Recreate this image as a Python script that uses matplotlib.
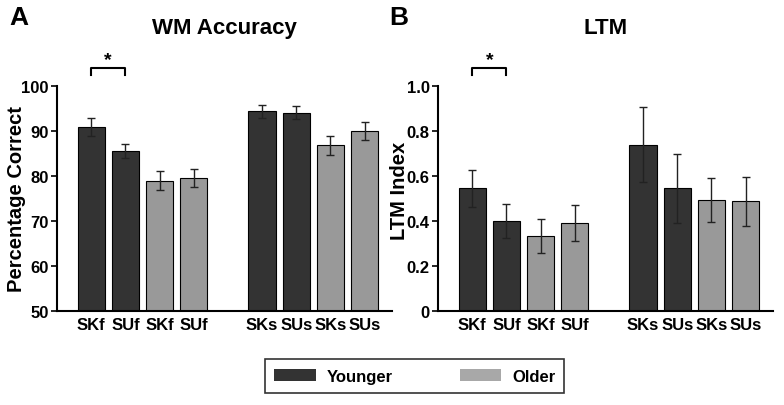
import numpy as np
import matplotlib.pyplot as plt
from matplotlib.patches import Patch

plt.rcParams['font.family'] = ['Liberation Sans', 'DejaVu Sans']
plt.rcParams['font.weight'] = 'bold'

labels = ['SKf', 'SUf', 'SKf', 'SUf', 'SKs', 'SUs', 'SKs', 'SUs']
groups = ['Younger', 'Younger', 'Older', 'Older', 'Younger', 'Younger', 'Older', 'Older']
xpos = [0, 1, 2, 3, 5, 6, 7, 8]

wm_mean = [91.0, 85.6, 79.0, 79.5, 94.4, 94.1, 86.8, 90.0]
wm_err = [2.0, 1.6, 2.2, 2.0, 1.4, 1.4, 2.2, 2.0]

ltm_mean = [0.545, 0.40, 0.335, 0.39, 0.74, 0.545, 0.492, 0.487]
ltm_err = [0.083, 0.077, 0.076, 0.08, 0.167, 0.155, 0.098, 0.107]

colors = {'Younger': '#333333', 'Older': '#999999'}
bar_colors = [colors[g] for g in groups]

fig = plt.figure(figsize=(7.84, 4.06), dpi=100)
axA = fig.add_axes([0.0727, 0.2315, 0.4273, 0.5542])
axB = fig.add_axes([0.5587, 0.2315, 0.4273, 0.5542])


def draw_panel(ax, means, errs, ylim, yticks, yticklabels, ylabel, label_xy,
               title, bracket_y, tip):
    ax.bar(xpos, np.array(means) - ylim[0], bottom=ylim[0], width=0.8,
           color=bar_colors, edgecolor='black', linewidth=0.8)
    ax.errorbar(xpos, means, yerr=errs, fmt='none', ecolor='#222222',
                elinewidth=1.0, capsize=3, capthick=1.0)
    ax.set_xlim(-1.0, 8.8)
    ax.set_ylim(*ylim)
    ax.set_yticks(yticks)
    ax.set_yticklabels(yticklabels, fontsize=12, fontweight='bold')
    ax.set_xticks(xpos)
    ax.set_xticklabels(labels, fontsize=12, fontweight='bold')
    ax.tick_params(axis='x', length=0, pad=4)
    ax.tick_params(axis='y', length=4, width=1.2, direction='out', pad=2)
    for s in ['top', 'right']:
        ax.spines[s].set_visible(False)
    for s in ['left', 'bottom']:
        ax.spines[s].set_linewidth(1.5)
    ax.set_ylabel(ylabel, fontsize=14.5, fontweight='bold')
    ax.yaxis.set_label_coords(*label_xy)
    ax.set_title(title, fontsize=16, fontweight='bold', pad=38)
    # significance bracket
    ax.plot([0, 0, 1, 1], [bracket_y - tip, bracket_y, bracket_y, bracket_y - tip],
            color='black', lw=1.5, clip_on=False)
    ax.text(0.5, bracket_y, '*', ha='center', va='bottom', fontsize=14,
            fontweight='bold')


draw_panel(axA, wm_mean, wm_err, (50, 100), [50, 60, 70, 80, 90, 100],
           ['50', '60', '70', '80', '90', '100'], 'Percentage Correct',
           (-0.093, 0.5), 'WM Accuracy', 104.0, 1.5)
draw_panel(axB, ltm_mean, ltm_err, (0, 1.0), [0, 0.2, 0.4, 0.6, 0.8, 1.0],
           ['0', '0.2', '0.4', '0.6', '0.8', '1.0'], 'LTM Index',
           (-0.088, 0.54), 'LTM', 1.08, 0.03)

fig.text(0.012, 0.985, 'A', fontsize=19, fontweight='bold', va='top')
fig.text(0.497, 0.985, 'B', fontsize=19, fontweight='bold', va='top')

handles = [Patch(facecolor=colors['Younger'], edgecolor='none', label='Younger'),
           Patch(facecolor='#a8a8a8', edgecolor='none', label='Older')]
leg = fig.legend(handles=handles, loc='center', bbox_to_anchor=(0.529, 0.071),
                 ncol=2, frameon=True, fancybox=False, edgecolor='black',
                 handlelength=2.5, handleheight=0.8, columnspacing=4.0,
                 handletextpad=0.65, borderpad=0.55,
                 prop={'size': 12, 'weight': 'bold'})
leg.get_frame().set_linewidth(1.2)

fig.savefig('out.png', dpi=100)
